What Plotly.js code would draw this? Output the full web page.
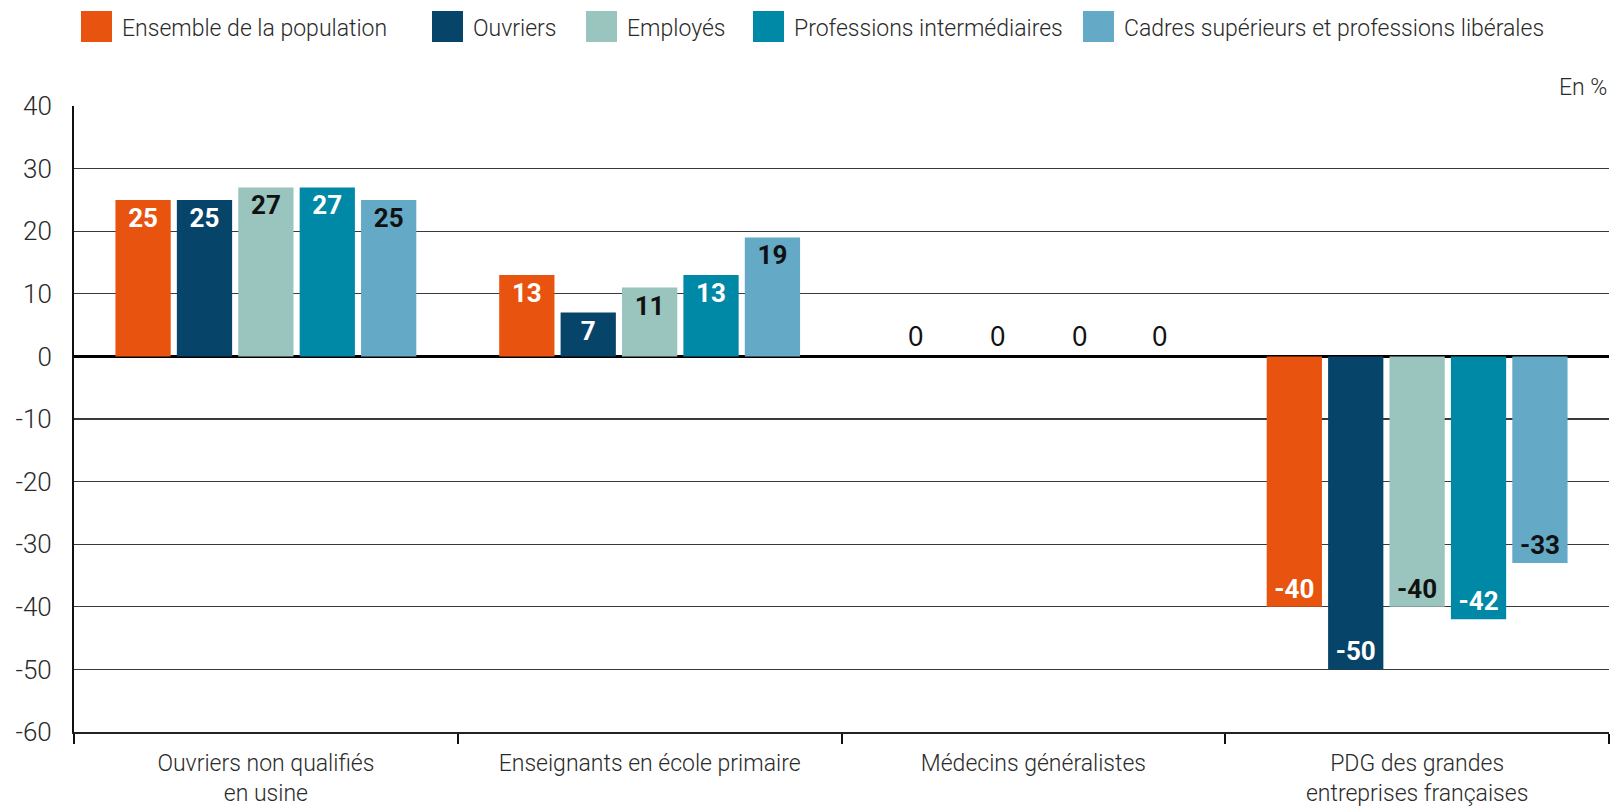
<!DOCTYPE html>
<html>
<head>
<meta charset="utf-8">
<script src="https://cdn.plot.ly/plotly-3.0.1.min.js"></script>
<style>html,body{margin:0;padding:0;background:#fff}#chart{width:1612px;height:807px}</style>
</head>
<body>
<div id="chart"></div>
<script>
// ---- Data ----
const categories = [
  "Ouvriers non qualifiés<br>en usine",
  "Enseignants en école primaire",
  "Médecins généralistes",
  "PDG des grandes<br>entreprises françaises"
];
const seriesNames = [
  "Ensemble de la population",
  "Ouvriers",
  "Employés",
  "Professions intermédiaires",
  "Cadres supérieurs et professions libérales"
];
const ensemble   = [25, 13, 0, -40];
const ouvriers   = [25, 7, 0, -50];
const employes   = [27, 11, 0, -40];
const profInter  = [27, 13, 0, -42];
const cadres     = [25, 19, 0, -33];
const yTickVals  = [40, 30, 20, 10, 0, -10, -20, -30, -40, -50, -60];
const unitLabel  = "En %";

// ---- Styles ----
const allSeries = [ensemble, ouvriers, employes, profInter, cadres];
const colors = ["#E8540F", "#07446A", "#9AC4BE", "#0088A7", "#64A9C6"];
const labelColors = ["#ffffff", "#ffffff", "#111111", "#ffffff", "#111111"];
const FONT = "Roboto, 'Liberation Sans', Arial, sans-serif";

const M = {l: 74, r: 3, t: 106, b: 75};
const W = 1612, H = 807;
const PW = W - M.l - M.r, PH = H - M.t - M.b;
const px2x = px => (px - M.l) / PW;
const px2y = py => (H - M.b - py) / PH;

const traces = allSeries.map((vals, i) => ({
  type: "bar",
  name: seriesNames[i],
  x: categories,
  y: vals,
  text: vals.map(v => v === 0 ? "" : String(v)),
  textposition: "inside",
  insidetextanchor: "end",
  textangle: 0,
  constraintext: "none",
  textfont: {family: FONT, size: 26, color: labelColors[i], weight: "bold"},
  marker: {color: colors[i], line: {width: 0}},
  showlegend: false,
  hoverinfo: "x+y+name",
  cliponaxis: false
}));

// Legend drawn by hand (bigger swatches)
const legendSquareLeft = [81, 432, 586, 753, 1083];
const shapes = [];
const annotations = [];
seriesNames.forEach((n, i) => {
  shapes.push({
    type: "rect", xref: "paper", yref: "paper",
    x0: px2x(legendSquareLeft[i]), x1: px2x(legendSquareLeft[i] + 31),
    y0: px2y(42), y1: px2y(11),
    fillcolor: colors[i], line: {width: 0}
  });
  annotations.push({
    xref: "paper", yref: "paper",
    x: px2x(legendSquareLeft[i] + 39), y: px2y(28),
    xanchor: "left", yanchor: "middle",
    text: n, showarrow: false,
    font: {family: FONT, size: 23, color: "#2a2a2a", weight: 300}
  });
});

// Unit label
annotations.push({
  xref: "paper", yref: "paper", x: 1, y: px2y(87),
  xanchor: "right", yanchor: "middle", text: unitLabel, showarrow: false,
  font: {family: FONT, size: 23, color: "#2a2a2a", weight: 300}
});

// Zero-value labels in the "Médecins" group
const zeroOffsets = [-0.307, -0.093, 0.121, 0.329];
[1, 2, 3, 4].forEach((s, k) => {
  annotations.push({
    xref: "x", yref: "y", x: 2 + zeroOffsets[k], y: allSeries[s][2],
    yshift: 21, xanchor: "center", yanchor: "middle",
    text: String(allSeries[s][2]), showarrow: false,
    font: {family: "'Noto Sans', sans-serif", size: 27, color: "#111111"}
  });
});

const layout = {
  width: W, height: H,
  margin: M,
  paper_bgcolor: "#ffffff",
  plot_bgcolor: "#ffffff",
  barmode: "group",
  bargap: 0.2,
  bargroupgap: 0.1,
  showlegend: false,
  font: {family: FONT, size: 23, color: "#2a2a2a"},
  xaxis: {
    type: "category",
    tickson: "boundaries",
    ticks: "outside", ticklen: 10, tickwidth: 2, tickcolor: "#111111",
    showline: true, linecolor: "#222222", linewidth: 1.5,
    showgrid: false, zeroline: false,
    tickangle: 0,
    ticklabelstandoff: 10,
    tickfont: {family: FONT, size: 23, color: "#2a2a2a", weight: 300},
    fixedrange: true
  },
  yaxis: {
    range: [-60, 40],
    tickvals: yTickVals,
    ticktext: yTickVals.map(String),
    showgrid: true, gridcolor: "#3a3a3a", gridwidth: 1.2,
    zeroline: true, zerolinecolor: "#000000", zerolinewidth: 3,
    showline: true, linecolor: "#111111", linewidth: 2,
    ticks: "", ticklabelstandoff: 15,
    tickfont: {family: FONT, size: 26, color: "#2a2a2a", weight: 300},
    fixedrange: true
  },
  shapes: shapes,
  annotations: annotations
};

Plotly.newPlot("chart", traces, layout, {displayModeBar: false, staticPlot: true});
</script>
</body>
</html>
